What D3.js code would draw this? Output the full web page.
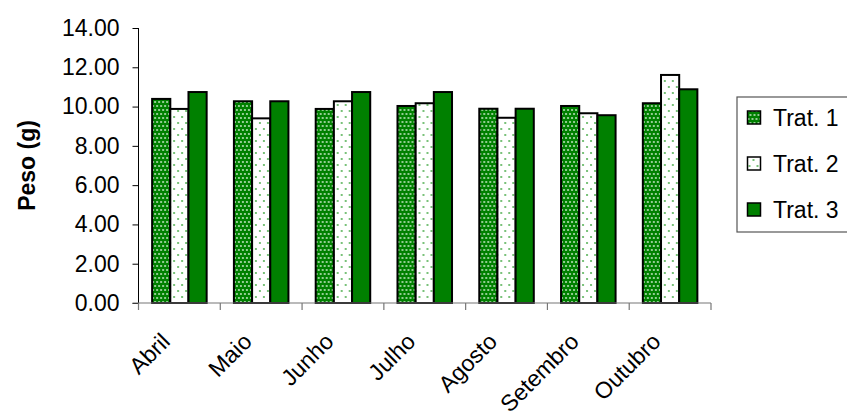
<!DOCTYPE html>
<html>
<head>
<meta charset="utf-8">
<script src="https://cdn.jsdelivr.net/npm/d3@7/dist/d3.min.js"></script>
<style>
  html, body { margin: 0; padding: 0; background: #fff; }
  svg { display: block; font-family: "Liberation Sans", Arial, sans-serif; }
</style>
</head>
<body>
<svg id="chart" width="847" height="419"></svg>
<script>
// Monthly mean weight per treatment
const months = ["Abril", "Maio", "Junho", "Julho", "Agosto", "Setembro", "Outubro"];
const seriesNames = ["Trat. 1", "Trat. 2", "Trat. 3"];
const trat1 = [10.39, 10.27, 9.88, 10.03, 9.89, 10.03, 10.17];
const trat2 = [9.88, 9.40, 10.27, 10.17, 9.43, 9.66, 11.61];
const trat3 = [10.74, 10.27, 10.74, 10.74, 9.89, 9.56, 10.88];
const yTicks = [0, 2, 4, 6, 8, 10, 12, 14];
const yTitle = "Peso (g)";

const series = [trat1, trat2, trat3];
const fills = ["url(#dotsDense)", "url(#dotsSparse)", "#008000"];
const FONT = 23;

const svg = d3.select("#chart");

// fill patterns for the dotted bars
const defs = svg.append("defs");
const dense = defs.append("pattern").attr("id", "dotsDense")
  .attr("patternUnits", "userSpaceOnUse").attr("width", 4).attr("height", 8);
dense.append("rect").attr("width", 4).attr("height", 8).attr("fill", "#008000");
dense.append("circle").attr("cx", 1).attr("cy", 2).attr("r", 0.9).attr("fill", "#d8f0d8");
dense.append("circle").attr("cx", 3).attr("cy", 6).attr("r", 0.9).attr("fill", "#d8f0d8");

const sparse = defs.append("pattern").attr("id", "dotsSparse")
  .attr("patternUnits", "userSpaceOnUse").attr("width", 8).attr("height", 12);
sparse.append("rect").attr("width", 8).attr("height", 12).attr("fill", "#fff");
sparse.append("circle").attr("cx", 2).attr("cy", 3).attr("r", 0.9).attr("fill", "#3aa53a");
sparse.append("circle").attr("cx", 6).attr("cy", 9).attr("r", 0.9).attr("fill", "#3aa53a");

const plot = { left: 138.5, right: 711, top: 28, bottom: 303 };

const x = d3.scaleBand().domain(months).range([plot.left, plot.right]).padding(0);
const barW = x.bandwidth() / 4.5;
const xs = d3.scaleBand().domain(d3.range(3)).range([0, barW * 3]);
const y = d3.scaleLinear().domain([0, 14]).range([plot.bottom, plot.top]);

// bars
const groups = svg.append("g").selectAll("g")
  .data(months).join("g")
  .attr("transform", m => `translate(${x(m) + (x.bandwidth() - barW * 3) / 2},0)`);

groups.selectAll("rect")
  .data((m, i) => series.map((s, k) => ({ k, v: s[i] })))
  .join("rect")
  .attr("x", d => xs(d.k))
  .attr("y", d => y(d.v))
  .attr("width", xs.bandwidth())
  .attr("height", d => y(0) - y(d.v))
  .attr("fill", d => fills[d.k])
  .attr("stroke", "#000")
  .attr("stroke-width", 2);

// y axis
const yAxis = svg.append("g")
  .attr("transform", `translate(${plot.left},0)`)
  .call(d3.axisLeft(y).tickValues(yTicks).tickFormat(d3.format(".2f")).tickSize(6).tickPadding(13));
yAxis.select(".domain").attr("stroke", "#000").attr("d", `M0,${plot.top}V${plot.bottom}`);
yAxis.selectAll(".tick line").attr("stroke", "#000");
yAxis.selectAll(".tick text").attr("font-size", FONT).attr("fill", "#000")
  .attr("font-family", "Liberation Sans, Arial, sans-serif");

// x axis with ticks at category boundaries
const xAxis = svg.append("g").attr("transform", `translate(0,${plot.bottom})`);
xAxis.append("line").attr("x1", plot.left - 6).attr("x2", plot.right)
  .attr("stroke", "#777").attr("stroke-width", 1.2);
const bounds = months.map(m => x(m)).concat([plot.right]);
xAxis.selectAll("line.tk").data(bounds).join("line").attr("class", "tk")
  .attr("x1", d => d).attr("x2", d => d).attr("y1", 0).attr("y2", 7)
  .attr("stroke", "#777").attr("stroke-width", 1.2);
xAxis.selectAll("text").data(months).join("text")
  .attr("transform", m => `translate(${x(m) + x.bandwidth() / 2 - 8},${40}) rotate(-45)`)
  .attr("text-anchor", "end")
  .attr("font-size", FONT)
  .attr("fill", "#000")
  .text(m => m);

// y axis title
svg.append("text")
  .attr("transform", `translate(35,${(plot.top + plot.bottom) / 2}) rotate(-90)`)
  .attr("text-anchor", "middle")
  .attr("font-size", FONT)
  .attr("font-weight", "bold")
  .text(yTitle);

// legend
const legend = svg.append("g").attr("transform", "translate(737,97)");
legend.append("rect").attr("x", 0).attr("y", 0).attr("width", 130).attr("height", 135)
  .attr("fill", "#fff").attr("stroke", "#555").attr("stroke-width", 1.2);
const items = legend.selectAll("g.item").data(seriesNames).join("g").attr("class", "item")
  .attr("transform", (d, i) => `translate(10.5,${20 + i * 46})`);
items.append("rect").attr("x", 0).attr("y", -6).attr("width", 13).attr("height", 13)
  .attr("fill", (d, i) => fills[i]).attr("stroke", "#000").attr("stroke-width", 1.5);
items.append("text").attr("x", 25.5).attr("y", 8.5).attr("font-size", FONT).text(d => d);
</script>
</body>
</html>
